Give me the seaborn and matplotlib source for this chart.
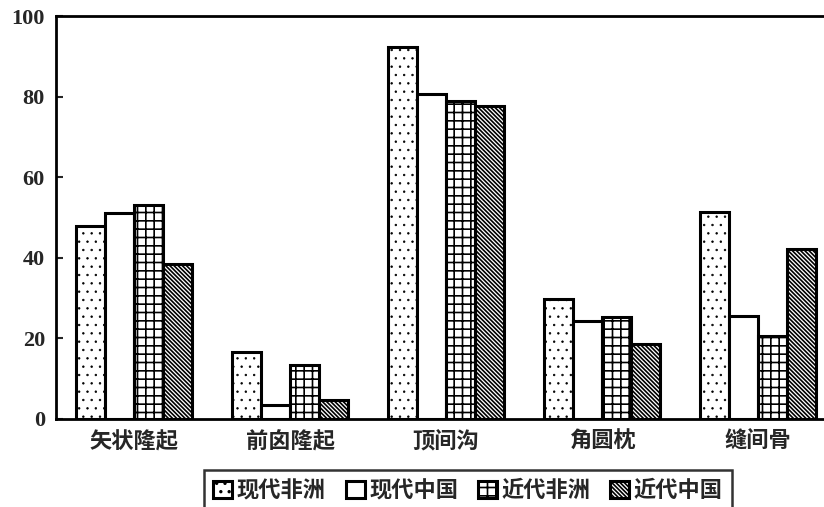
import seaborn as sns
import matplotlib.pyplot as plt
import pandas as pd

# traits and groups
traits = ['矢状隆起', '前囟隆起', '顶间沟', '角圆枕', '缝间骨']
groups = ['现代非洲', '现代中国', '近代非洲', '近代中国']

modern_africa = [47.8, 16.5, 92.2, 29.8, 51.3]
modern_china = [51.1, 3.5, 80.6, 24.4, 25.6]
recent_africa = [53.0, 13.3, 79.0, 25.2, 20.6]
recent_china = [38.5, 4.7, 77.6, 18.6, 42.2]

y_ticks = [0, 20, 40, 60, 80, 100]

df = pd.DataFrame({
    'trait': traits * 4,
    'group': sum([[g] * len(traits) for g in groups], []),
    'value': modern_africa + modern_china + recent_africa + recent_china,
})

sns.set_style('white')
plt.rcParams['font.family'] = ['Noto Sans CJK SC', 'DejaVu Sans']
plt.rcParams['hatch.linewidth'] = 1.2

fig = plt.figure(figsize=(8.24, 5.07), dpi=100)
ax = fig.add_axes([0.068, 0.1736, 0.932, 0.7948])

sns.barplot(data=df, x='trait', y='value', hue='group', order=traits,
            hue_order=groups, width=0.745, gap=0, color='white',
            edgecolor='black', linewidth=2.2, ax=ax, legend=False)

hatches = ['..', '', '++', '\\\\\\\\\\\\\\\\']
hatch_lw = [0.5, 1.2, 1.2, 1.2]
for cont, h, hw in zip(ax.containers, hatches, hatch_lw):
    for p in cont:
        p.set_facecolor('white')
        p.set_edgecolor('black')
        p.set_hatch(h)
        if hasattr(p, 'set_hatch_linewidth'):
            p.set_hatch_linewidth(hw)

ax.set_ylim(0, 100)
ax.set_xlim(-0.5, (824 - 56) / 156 - 0.5)
ax.set_yticks(y_ticks)
ax.set_yticklabels([str(t) for t in y_ticks], fontfamily='Liberation Serif',
                   fontweight='bold', fontsize=16)
ax.set_xticks(range(len(traits)))
ax.set_xticklabels(traits, fontweight='bold', fontsize=16)
ax.set_xticks([i + 0.5 for i in range(len(traits) - 1)], minor=True)
ax.tick_params(axis='x', which='major', length=0, pad=8)
ax.tick_params(axis='x', which='minor', direction='in', length=6, width=1.5)
ax.tick_params(axis='y', direction='in', length=5, width=1.5, pad=8, left=True)
ax.set_xlabel('')
ax.set_ylabel('')

for s in ['left', 'bottom', 'top']:
    ax.spines[s].set_color('black')
    ax.spines[s].set_linewidth(2)
ax.spines['right'].set_visible(False)

leg = fig.legend(handles=list(ax.containers), labels=groups, ncol=4,
                 loc='lower center', bbox_to_anchor=(0.568, -0.03),
                 frameon=True, fancybox=False, edgecolor='black',
                 handlelength=0.85, handleheight=0.85, handletextpad=0.2,
                 columnspacing=0.9, borderpad=0.4,
                 prop={'family': 'Noto Sans CJK SC', 'size': 16, 'weight': 'bold'})
leg.get_frame().set_linewidth(1.8)

fig.savefig('out.png', dpi=100)
